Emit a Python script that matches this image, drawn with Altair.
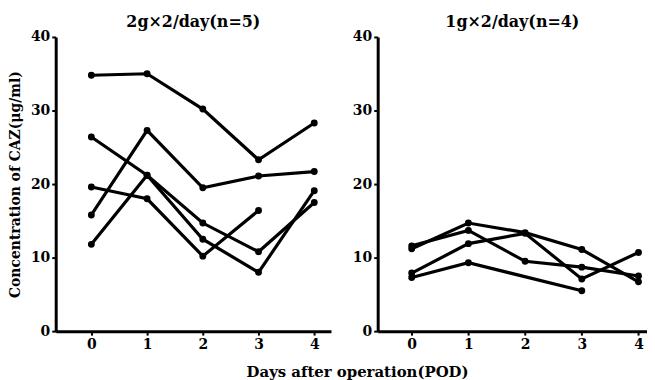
import altair as alt
import pandas as pd

days = [0, 1, 2, 3, 4]

# Left panel: 2g x 2/day (n=5)
left_a = [34.8, 35.0, 30.2, 23.3, 28.3]
left_b = [15.8, 27.3, 19.5, 21.1, 21.7]
left_c = [26.4, 21.2, 14.7, 10.8, 17.5]
left_d = [11.8, 21.2, 12.5, 8.0, 19.1]
left_e = [19.6, 18.0, 10.2, 16.4, None]

# Right panel: 1g x 2/day (n=4)
right_a = [11.2, 14.7, 13.4, 11.1, 6.7]
right_b = [11.6, 13.7, 9.5, 8.7, 7.5]
right_c = [7.9, 11.9, 13.3, 7.1, 10.7]
right_d = [7.3, 9.3, None, 5.5, None]

left_series = {"A": left_a, "B": left_b, "C": left_c, "D": left_d, "E": left_e}
right_series = {"A": right_a, "B": right_b, "C": right_c, "D": right_d}

left_title = "2g×2/day(n=5)"
right_title = "1g×2/day(n=4)"
y_title = "Concentration of CAZ(μg/ml)"
x_title = "Days after operation(POD)"

FONT = "DejaVu Serif"


def to_frame(series):
    rows = []
    for name, vals in series.items():
        for d, v in zip(days, vals):
            if v is not None:
                rows.append({"series": name, "day": d, "value": v})
    return pd.DataFrame(rows)


def panel(series, title, xdomain, width, ytitle):
    df = to_frame(series)
    x = alt.X("day:Q", scale=alt.Scale(domain=xdomain, nice=False, zero=False),
              axis=alt.Axis(values=days, format="d", title=None, grid=False))
    y = alt.Y("value:Q", scale=alt.Scale(domain=[0, 40], nice=False),
              axis=alt.Axis(values=[0, 10, 20, 30, 40], title=ytitle, grid=False,
                            titlePadding=8))
    base = alt.Chart(df)
    lines = base.mark_line(color="black", strokeWidth=3.2).encode(x=x, y=y, detail="series:N")
    pts = base.mark_circle(color="black", size=48, opacity=1).encode(x=x, y=y)
    return alt.layer(lines, pts).properties(
        width=width, height=296,
        title=alt.TitleParams(title, font=FONT, fontSize=16, fontWeight="bold",
                              anchor="middle", offset=0, color="black"),
    )


left = panel(left_series, left_title, [-0.64, 4.3], 277, y_title)
right = panel(right_series, right_title, [-0.6, 4.15], 271, None)

chart = alt.hconcat(left, right, spacing=21).properties(
    title=alt.TitleParams(x_title, orient="bottom", anchor="middle", font=FONT,
                          fontSize=15, fontWeight="bold", color="black", offset=14, dx=30),
    padding={"left": 0, "top": 5, "right": 0, "bottom": 0},
).configure_view(stroke=None).configure_axis(
    domainColor="black", domainWidth=3, tickColor="black", tickWidth=2, tickSize=4,
    labelFont=FONT, labelFontSize=14, labelFontWeight="bold", labelColor="black",
    labelPadding=2, titleFont=FONT, titleFontSize=14, titleFontWeight="bold",
    titleColor="black",
)

chart.save("out.html", embed_options={"renderer": "svg", "actions": False})
